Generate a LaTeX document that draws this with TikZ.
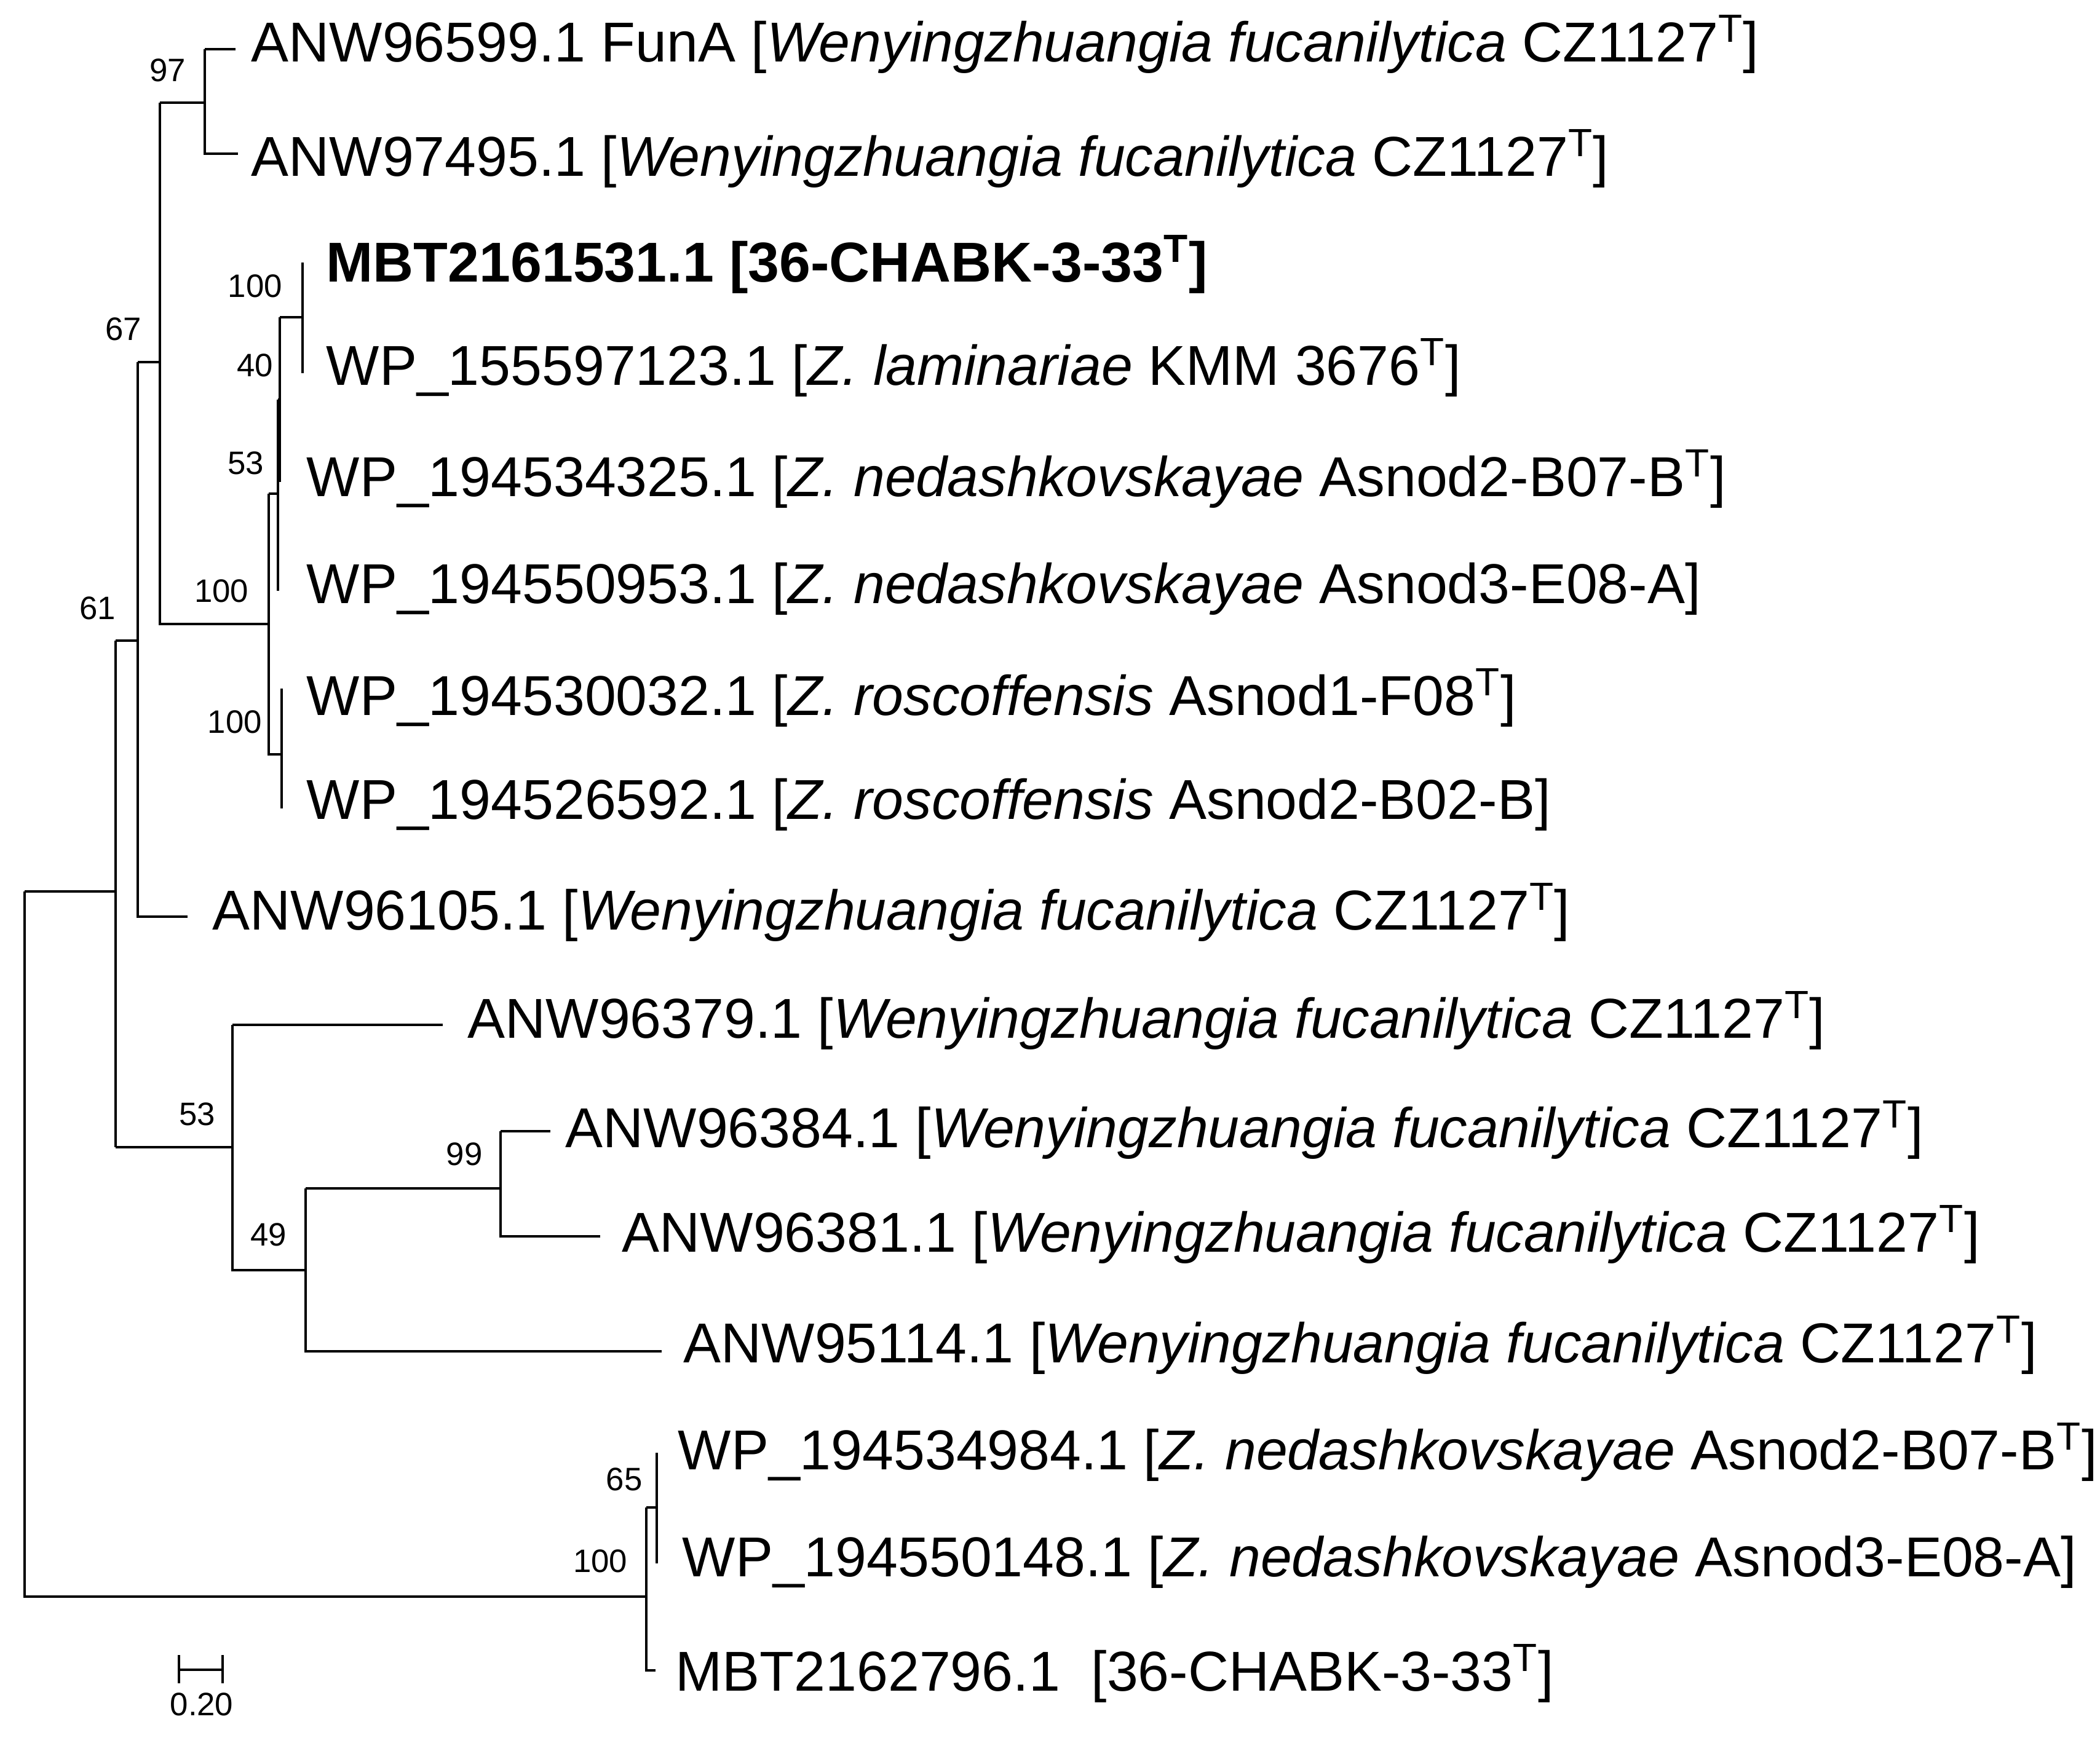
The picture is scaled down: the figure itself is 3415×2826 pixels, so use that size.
\documentclass[tikz,border=0pt]{standalone}
\usepackage{fontspec}
\setmainfont{Liberation Sans}
\begin{document}
\begin{tikzpicture}[x={(0.01cm,0)},y={(0,-0.01cm)},
  br/.style={line width=1pt},
  leaf/.style={anchor=west,inner sep=0pt,font=\fontsize{26}{30}\selectfont},
  bs/.style={inner sep=0pt,font=\fontsize{15}{18}\selectfont}]
\useasboundingbox (0,0) rectangle (3415,2826);
% internal node coordinates
\coordinate (root) at (40,1450);
\coordinate (n61) at (188,1042);
\coordinate (n67) at (224,589);
\coordinate (na) at (260,167);
\coordinate (n97) at (333,80);
\coordinate (nb) at (437,803);
\coordinate (n53a) at (452,650);
\coordinate (n40) at (455,516);
\coordinate (n100a) at (492,427);
\coordinate (nr) at (458,1120);
\coordinate (n53b) at (378,1667);
\coordinate (n49) at (497,1933);
\coordinate (n99) at (814,1840);
\coordinate (n100z) at (1051,2452);
\coordinate (n65) at (1068,2363);
% root
\draw[br] (root) -- (40,2597) -- (1051,2597);
\draw[br] (root) -- (188,1450);
\draw[br] (n61) -- (188,1866);
\draw[br] (188,1042) -- (224,1042);
\draw[br] (n67) -- (224,1491) -- (305,1491);
\draw[br] (224,589) -- (260,589);
\draw[br] (na) -- (260,1015) -- (437,1015);
\draw[br] (260,167) -- (333,167);
\draw[br] (n97) -- (333,250) -- (387,250);
\draw[br] (n97) -- (383,80);
\draw[br] (nb) -- (437,1227) -- (458,1227);
\draw[br] (nb) -- (452,803);
\draw[br] (n53a) -- (452,961);
\draw[br] (n53a) -- (455,650);
\draw[br] (n40) -- (455,784);
\draw[br] (n40) -- (492,516);
\draw[br] (n100a) -- (492,607);
\draw[br] (nr) -- (458,1315);
% lower clade
\draw[br] (188,1866) -- (378,1866);
\draw[br] (n53b) -- (378,2066) -- (497,2066);
\draw[br] (n53b) -- (720,1667);
\draw[br] (n49) -- (497,2198) -- (1076,2198);
\draw[br] (n49) -- (814,1933);
\draw[br] (n99) -- (814,2011) -- (976,2011);
\draw[br] (n99) -- (895,1840);
\draw[br] (n100z) -- (1051,2717) -- (1066,2717);
\draw[br] (1051,2452) -- (1068,2452);
\draw[br] (n65) -- (1068,2543);
% leaves
\node[leaf] (l1) at (408,72) {ANW96599.1 FunA [\textit{Wenyingzhuangia fucanilytica} CZ1127\textsuperscript{T}]};
\node[leaf] (l2) at (408,258) {ANW97495.1 [\textit{Wenyingzhuangia fucanilytica} CZ1127\textsuperscript{T}]};
\node[leaf] (l3) at (530,430) {\textbf{MBT2161531.1 [36-CHABK-3-33\textsuperscript{T}]}};
\node[leaf] (l4) at (530,598) {WP\_155597123.1 [\textit{Z. laminariae} KMM 3676\textsuperscript{T}]};
\node[leaf] (l5) at (498,779) {WP\_194534325.1 [\textit{Z. nedashkovskayae} Asnod2-B07-B\textsuperscript{T}]};
\node[leaf] (l6) at (498,958) {WP\_194550953.1 [\textit{Z. nedashkovskayae} Asnod3-E08-A]};
\node[leaf] (l7) at (498,1135) {WP\_194530032.1 [\textit{Z. roscoffensis} Asnod1-F08\textsuperscript{T}]};
\node[leaf] (l8) at (498,1309) {WP\_194526592.1 [\textit{Z. roscoffensis} Asnod2-B02-B]};
\node[leaf] (l9) at (345,1484) {ANW96105.1 [\textit{Wenyingzhuangia fucanilytica} CZ1127\textsuperscript{T}]};
\node[leaf] (l10) at (760,1660) {ANW96379.1 [\textit{Wenyingzhuangia fucanilytica} CZ1127\textsuperscript{T}]};
\node[leaf] (l11) at (919,1838) {ANW96384.1 [\textit{Wenyingzhuangia fucanilytica} CZ1127\textsuperscript{T}]};
\node[leaf] (l12) at (1011,2008) {ANW96381.1 [\textit{Wenyingzhuangia fucanilytica} CZ1127\textsuperscript{T}]};
\node[leaf] (l13) at (1111,2188) {ANW95114.1 [\textit{Wenyingzhuangia fucanilytica} CZ1127\textsuperscript{T}]};
\node[leaf] (l14) at (1102,2362) {WP\_194534984.1 [\textit{Z. nedashkovskayae} Asnod2-B07-B\textsuperscript{T}]};
\node[leaf] (l15) at (1109,2541) {WP\_194550148.1 [\textit{Z. nedashkovskayae} Asnod3-E08-A]};
\node[leaf] (l16) at (1098,2722) {MBT2162796.1\ \ [36-CHABK-3-33\textsuperscript{T}]};
% bootstrap values
\node[bs] (b97) at (273,114) {97};
\node[bs] (b67) at (201,535) {67};
\node[bs] (b100a) at (415,465) {100};
\node[bs] (b40) at (415,594) {40};
\node[bs] (b53a) at (400,753) {53};
\node[bs] (b100b) at (360,961) {100};
\node[bs] (b100c) at (382,1174) {100};
\node[bs] (b61) at (159,989) {61};
\node[bs] (b53b) at (321,1812) {53};
\node[bs] (b49) at (437,2008) {49};
\node[bs] (b99) at (755,1877) {99};
\node[bs] (b65) at (1015,2406) {65};
\node[bs] (b100d) at (976,2539) {100};
% scale bar
\draw[br] (291,2692) -- (291,2738);
\draw[br] (362,2692) -- (362,2738);
\draw[br] (291,2716) -- (362,2716);
\node[bs] (sb) at (328,2772) {0.20};
\end{tikzpicture}
\end{document}
